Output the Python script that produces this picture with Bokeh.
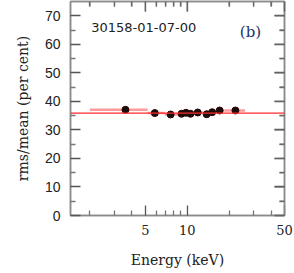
import math
from bokeh.plotting import figure
from bokeh.models import Range1d, FixedTicker, Label, Span, Title, LogAxis, LinearAxis
from bokeh.embed import file_html
from bokeh.resources import INLINE

# data
energy = [3.6, 5.85, 7.6, 9.1, 9.8, 10.55, 11.9, 13.8, 15.1, 17.1, 22.2]
e_lo = [2.0, 5.2, 6.9, 8.6, 9.5, 10.2, 11.2, 13.0, 14.4, 16.0, 18.5]
e_hi = [5.2, 6.9, 8.6, 9.5, 10.2, 11.2, 13.0, 14.4, 16.0, 18.5, 26.0]
rms = [37.05, 35.9, 35.4, 35.65, 36.0, 35.65, 36.1, 35.5, 36.2, 36.8, 36.8]
mean_level = 35.9
obs_id = "30158-01-07-00"
panel = "(b)"
y_title = "rms/mean (per cent)"
x_title = "Energy (keV)"
x_major = [5, 10, 50]
x_minor = [2, 3, 4, 6, 7, 8, 9, 20, 30, 40]
y_major = [0, 10, 20, 30, 40, 50, 60, 70]
y_minor = [5, 15, 25, 35, 45, 55, 65]

X0, X1 = 1.45, 50
Y0, Y1 = 0, 75
FW, FH = 214, 214
AX = "#8a8a8a"

p = figure(x_axis_type="log", x_range=Range1d(X0, X1), y_range=Range1d(Y0, Y1),
           frame_width=FW, frame_height=FH, output_backend="svg", toolbar_location=None,
           min_border_left=70, min_border_right=10, min_border_top=1, min_border_bottom=58,
           background_fill_color="white", border_fill_color="white")
p.grid.visible = False
p.outline_line_color = AX
p.outline_line_width = 1.5

def style(ax, ticks, minor):
    ax.ticker = FixedTicker(ticks=ticks, minor_ticks=minor)
    ax.axis_line_color = AX
    ax.axis_line_width = 1.5
    ax.major_tick_line_color = "#555555"
    ax.minor_tick_line_color = "#777777"
    ax.major_tick_line_width = 1.3
    ax.minor_tick_line_width = 1.3
    ax.major_tick_in = 10
    ax.major_tick_out = 0
    ax.minor_tick_in = 5
    ax.minor_tick_out = 0

xa = p.xaxis[0]
style(xa, x_major, x_minor)
xa.major_label_overrides = {5: "5", 10: "10", 50: "50"}
xa.major_label_text_font = "DejaVu Serif"
xa.major_label_text_font_size = "13px"
xa.major_label_text_color = "#222222"
xa.major_label_standoff = 9
xa.axis_label = x_title
xa.axis_label_text_font = "DejaVu Serif"
xa.axis_label_text_font_size = "14px"
xa.axis_label_text_font_style = "normal"
xa.axis_label_text_color = "#222222"
xa.axis_label_standoff = 14

ya = p.yaxis[0]
style(ya, y_major, y_minor)
ya.major_label_text_font = "Liberation Sans"
ya.major_label_text_font_size = "14px"
ya.major_label_text_color = "#222222"
ya.major_label_standoff = 10

# mirrored axes on the top and right edges, ticks only
top = LogAxis()
style(top, x_major, x_minor)
top.major_label_overrides = {t: "" for t in x_major}
top.major_label_standoff = 0
p.add_layout(top, "above")
right = LinearAxis()
style(right, y_major, y_minor)
right.major_label_overrides = {t: "" for t in y_major}
right.major_label_standoff = 0
p.add_layout(right, "right")

# same mirrored ticks as glyphs (lengths in pixels converted via the scales)
ypx = (Y1 - Y0) / FH
xdec_px = (math.log10(X1) - math.log10(X0)) / FW
top_ticks = x_major + x_minor
top_len = [10 if t in x_major else 5 for t in top_ticks]
p.segment(x0=top_ticks, x1=top_ticks, y0=[Y1 - 0.2] * len(top_ticks),
          y1=[Y1 - L * ypx for L in top_len], line_color="#666666", line_width=1.3,
          level="overlay")
right_ticks = y_major + y_minor
right_len = [10 if t in y_major else 5 for t in right_ticks]
p.segment(x0=[X1 / 1.004] * len(right_ticks), x1=[X1 / 10 ** (L * xdec_px) for L in right_len],
          y0=right_ticks, y1=right_ticks, line_color="#666666", line_width=1.3,
          level="overlay")

p.add_layout(Title(text=y_title, align="center", offset=-18, standoff=22,
                   text_font="DejaVu Serif", text_font_size="14px",
                   text_font_style="normal", text_color="#222222"), "left")

p.segment(x0=e_lo, x1=e_hi, y0=rms, y1=rms, line_color="#ff9a9a", line_width=2.5)
p.add_layout(Span(location=mean_level, dimension="width", line_color="#ff2a2a", line_width=1.2))
p.scatter(energy, rms, size=7, fill_color="#111111", line_color="#330000")

p.add_layout(Label(x=2.04, y=66.0, text=obs_id, text_align="left", text_baseline="middle",
                   text_font="DejaVu Sans", text_font_size="13px", text_color="#222222"))
p.add_layout(Label(x=28.5, y=64.2, text=panel, text_align="center", text_baseline="middle",
                   text_font="DejaVu Serif", text_font_size="15px", text_color="#223366"))

open("out.html", "w").write(file_html(p, INLINE))
